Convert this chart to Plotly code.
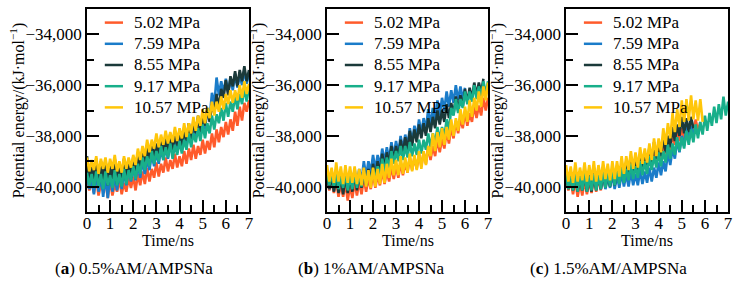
import plotly.graph_objects as go

TIME = [0.0, 0.1, 0.2, 0.3, 0.4, 0.5, 0.6, 0.7, 0.8, 0.9, 1.0, 1.1, 1.2, 1.3, 1.4, 1.5, 1.6, 1.7, 1.8, 1.9,
        2.0, 2.1, 2.2, 2.3, 2.4, 2.5, 2.6, 2.7, 2.8, 2.9, 3.0, 3.1, 3.2, 3.3, 3.4, 3.5, 3.6, 3.7, 3.8, 3.9,
        4.0, 4.1, 4.2, 4.3, 4.4, 4.5, 4.6, 4.7, 4.8, 4.9, 5.0, 5.1, 5.2, 5.3, 5.4, 5.5, 5.6, 5.7, 5.8, 5.9,
        6.0, 6.1, 6.2, 6.3, 6.4, 6.5, 6.6, 6.7, 6.8, 6.9, 7.0]

SERIES_NAMES = ["5.02 MPa", "7.59 MPa", "8.55 MPa", "9.17 MPa", "10.57 MPa"]
COLORS = ["#FF5B2B", "#1A7CC9", "#1B3A3A", "#18AF8A", "#FFC60A"]
PANEL_CAPTIONS = ["(<b>a</b>) 0.5%AM/AMPSNa", "(<b>b</b>) 1%AM/AMPSNa", "(<b>c</b>) 1.5%AM/AMPSNa"]

# ---------- panel (a) 0.5%AM/AMPSNa ----------
A_502 = [-39650, -40150, -39800, -40250, -39650, -40350, -39900, -40150, -39750, -40450,
         -39750, -40350, -39900, -40200, -39700, -40300, -39850, -40200, -39650, -40050,
         -39600, -40150, -39500, -39950, -39400, -39900, -39250, -39800, -39300, -39650,
         -39050, -39600, -39100, -39450, -38850, -39400, -38950, -39300, -38700, -39250,
         -38800, -39200, -38600, -39100, -38500, -38950, -38350, -38900, -38400, -38750,
         -38150, -38700, -38200, -38550, -37900, -38450, -37750, -38250, -37650, -38050,
         -37450, -37950, -37350, -37800, -37050, -37600, -36850, -37400, -36700, -37050, -36600]
A_759 = [-39500, -40100, -39700, -40300, -39450, -40200, -39550, -40400, -39600, -40450,
         -39500, -40200, -39600, -40150, -39400, -40100, -39450, -39950, -39300, -39800,
         -39250, -39750, -39150, -39650, -38950, -39500, -38900, -39350, -38700, -39200,
         -38650, -39100, -38500, -38950, -38450, -38900, -38300, -38700, -38200, -38650,
         -38150, -38600, -37950, -38400, -37850, -38250, -37650, -38050, -37500, -37900,
         -37300, -37750, -36950, -37350, -36300, -36800, -35700, -36400, -35850, -36300,
         -35750, -36250, -35750, -36200, -35550, -36100, -35600, -36000, -35400, -35950, -35500]
A_855 = [-38800, -39900, -39050, -39850, -38900, -40000, -39000, -39800, -38950, -39950,
         -39050, -39750, -38900, -39900, -39050, -39800, -38900, -39750, -38950, -39650,
         -38850, -39550, -38750, -39350, -38500, -39250, -38450, -39000, -38250, -38950,
         -38300, -38800, -38100, -38750, -38100, -38600, -37900, -38550, -37950, -38400,
         -37800, -38400, -37750, -38200, -37500, -38150, -37450, -37900, -37200, -37850,
         -37150, -37600, -36900, -37450, -36750, -37100, -36350, -36900, -36150, -36500,
         -35800, -36400, -35650, -36050, -35450, -36050, -35400, -35850, -35250, -35850, -35400]
A_917 = [-39450, -39950, -39500, -40050, -39400, -40000, -39500, -40100, -39400, -39950,
         -39550, -40050, -39350, -39950, -39500, -40000, -39300, -39900, -39350, -39750,
         -39200, -39700, -39100, -39500, -38850, -39350, -38800, -39200, -38600, -39100,
         -38600, -39000, -38400, -38950, -38450, -38850, -38300, -38900, -38350, -38750,
         -38200, -38700, -38150, -38550, -37900, -38450, -37900, -38250, -37700, -38200,
         -37550, -38100, -37500, -37900, -37200, -37750, -37150, -37500, -36900, -37400,
         -36700, -37250, -36650, -37050, -36400, -36950, -36350, -36750, -36100, -36650, -36050]
A_1057 = [-38850, -39400, -38950, -39350, -38800, -39500, -38900, -39300, -38850, -39450,
          -38900, -39300, -38750, -39400, -39000, -39450, -38800, -39300, -38850, -39250,
          -38750, -39150, -38500, -38950, -38400, -38800, -38150, -38650, -38150, -38500,
          -37900, -38450, -37950, -38350, -37800, -38300, -37850, -38250, -37650, -38200,
          -37700, -38100, -37500, -38050, -37500, -37900, -37250, -37800, -37200, -37600,
          -36950, -37500, -36900, -37300, -36650, -37200, -36650, -37050, -36450, -36950,
          -36350, -36750, -36200, -36700, -36200, -36600, -36000, -36500, -35850, -36350, -35950]

# ---------- panel (b) 1%AM/AMPSNa ----------
B_502 = [-39650, -40150, -39800, -40250, -39750, -40400, -39900, -40400, -39850, -40550,
         -39950, -40450, -39800, -40350, -39800, -40300, -39650, -40200, -39650, -40100,
         -39500, -40050, -39550, -39950, -39350, -39900, -39400, -39800, -39200, -39700,
         -39200, -39650, -39050, -39550, -39050, -39450, -38850, -39350, -38850, -39300,
         -38700, -39200, -38650, -39100, -38400, -38950, -38400, -38800, -38100, -38650,
         -38100, -38500, -37800, -38300, -37650, -38100, -37400, -37900, -37300, -37700,
         -37050, -37600, -37100, -37450, -36800, -37300, -36800, -37200, -36500, -37000, -36500]
B_759 = [-39500, -40100, -39600, -40150, -39400, -40050, -39600, -40200, -39450, -40100,
         -39500, -40050, -39300, -39900, -39300, -39800, -39000, -39600, -39000, -39450,
         -38750, -39350, -38750, -39200, -38500, -39050, -38450, -38950, -38250, -38800,
         -38200, -38700, -38000, -38550, -37950, -38400, -37700, -38250, -37600, -38050,
         -37350, -37900, -37300, -37750, -36950, -37550, -36900, -37400, -36600, -37200,
         -36500, -37000, -36250, -36850, -36200, -36700, -36000, -36600, -36050, -36550, -36100]
B_855 = [-39450, -40100, -39550, -40200, -39500, -40250, -39550, -40300, -39550, -40250,
         -39600, -40200, -39450, -40150, -39500, -40050, -39300, -39950, -39300, -39850,
         -39100, -39700, -39000, -39500, -38700, -39300, -38650, -39100, -38400, -39000,
         -38400, -38900, -38150, -38700, -38050, -38550, -37800, -38400, -37750, -38250,
         -37550, -38100, -37500, -38000, -37300, -37850, -37250, -37700, -37000, -37550,
         -37000, -37450, -36750, -37300, -36700, -37150, -36450, -37000, -36400, -36850,
         -36150, -36700, -36100, -36550, -35900, -36400, -35900, -36300, -35750]
B_917 = [-39450, -39950, -39450, -40050, -39450, -40100, -39600, -40050, -39450, -40150,
         -39600, -40100, -39450, -40050, -39500, -40000, -39350, -39950, -39400, -39850,
         -39300, -39750, -39200, -39600, -38900, -39450, -38850, -39250, -38600, -39100,
         -38600, -39000, -38400, -38950, -38400, -38850, -38250, -38800, -38300, -38750,
         -38150, -38700, -38150, -38550, -37900, -38450, -37900, -38300, -37650, -38150,
         -37650, -38050, -37350, -37800, -36900, -37200, -36550, -37100, -36550, -36900,
         -36250, -36750, -36250, -36650, -36000, -36550, -36050, -36450, -35850, -36350, -35850]
B_1057 = [-39150, -39800, -39250, -39850, -39050, -39800, -39200, -39900, -39150, -39850,
          -39200, -39850, -39200, -39900, -39300, -39950, -39250, -40000, -39350, -40050,
          -39250, -40000, -39300, -39900, -39100, -39850, -39100, -39650, -38900, -39550,
          -38950, -39550, -38800, -39500, -38850, -39450, -38700, -39400, -38750, -39350,
          -38600, -39300, -38600, -39150, -38400, -38800, -37900, -38600, -37850, -38450,
          -37700, -38350, -37650, -38150, -37350, -38000, -37300, -37800, -36950, -37550,
          -36850, -37450, -36600, -37250, -36500, -37000, -36250, -36850, -36050, -36600, -35900]

# ---------- panel (c) 1.5%AM/AMPSNa ----------
C_502 = [-39650, -40150, -39750, -40300, -39750, -40400, -39850, -40350, -39700, -40300,
         -39750, -40250, -39600, -40200, -39650, -40150, -39500, -40050, -39550, -39950,
         -39400, -39950, -39450, -39850, -39250, -39800, -39300, -39700, -39050, -39600,
         -39100, -39500, -38900, -39400, -38850, -39300, -38650, -39150, -38600, -39000,
         -38400, -38900, -38300, -38700, -38000, -38550, -37950, -38350, -37700, -38200,
         -37700, -38100, -37500, -38000, -37500, -37950, -37350, -37850, -37450]
C_759 = [-39450, -39950, -39550, -40050, -39450, -40100, -39600, -40050, -39450, -40100,
         -39600, -40100, -39500, -40050, -39600, -40100, -39500, -40100, -39600, -40050,
         -39500, -40100, -39550, -40050, -39450, -40000, -39500, -40000, -39400, -39950,
         -39500, -39950, -39350, -39900, -39400, -39850, -39250, -39800, -39250, -39650,
         -39050, -39550, -39000, -39400, -38650, -39150, -38500, -38900, -38150, -38650,
         -38000, -38400, -37650, -38100, -37600, -38000, -37600]
C_855 = [-39450, -40100, -39550, -40150, -39400, -40200, -39550, -40150, -39500, -40200,
         -39550, -40200, -39450, -40150, -39500, -40100, -39350, -40050, -39400, -40000,
         -39300, -39950, -39300, -39800, -39100, -39700, -39050, -39550, -38850, -39450,
         -38900, -39400, -38700, -39300, -38700, -39150, -38450, -39050, -38250, -38900,
         -38400, -38800, -38100, -38650, -38000, -38450, -37650, -38200, -37550, -38000,
         -37250, -37900, -37300, -37850, -37250, -37700]
C_917 = [-39500, -40100, -39600, -40150, -39450, -40200, -39600, -40150, -39450, -40200,
         -39600, -40150, -39500, -40150, -39550, -40100, -39400, -40050, -39450, -40000,
         -39350, -39950, -39400, -39900, -39250, -39850, -39300, -39750, -39100, -39700,
         -39200, -39650, -39000, -39550, -39000, -39500, -38800, -39350, -38800, -39250,
         -38650, -39200, -38600, -39050, -38350, -38900, -38300, -38750, -38050, -38600,
         -38050, -38500, -37800, -38350, -37750, -38250, -37550, -38100, -37450, -37950,
         -37200, -37800, -37100, -37600, -36850, -37500, -36750, -37350, -36450, -37200, -36650]
C_1057 = [-39150, -39800, -39200, -39850, -39050, -39800, -39250, -39750, -39050, -39800,
          -39150, -39750, -39000, -39800, -39150, -39750, -39000, -39700, -39100, -39750,
          -39000, -39700, -39000, -39600, -38800, -39500, -38800, -39350, -38600, -39300,
          -38650, -39250, -38450, -39100, -38500, -39050, -38300, -38950, -38100, -38800,
          -38100, -38650, -37700, -38350, -37500, -38100, -37100, -37850, -36950, -37650,
          -36600, -37450, -36550, -37400, -36400, -37350, -36600, -37400, -36550, -37450]

PANELS = [
    [A_502, A_759, A_855, A_917, A_1057],
    [B_502, B_759, B_855, B_917, B_1057],
    [C_502, C_759, C_855, C_917, C_1057],
]

Y_RANGE = [-41000, -33000]
X_RANGE = [0, 7]
Y_TICKS = [-40000, -38000, -36000, -34000]
X_TICKS = [0, 1, 2, 3, 4, 5, 6, 7]

W, H = 740, 282
FONT = "Liberation Serif, Times New Roman, serif"
PANEL_PX = [(84, 248), (327, 490), (569, 733)]
TOP_PX, BOT_PX = 9, 212


def px(x):
    return x / W


def py(y):
    return 1 - y / H


fig = go.Figure()
for p, series in enumerate(PANELS):
    sfx = "" if p == 0 else str(p + 1)
    lg = "legend" if p == 0 else "legend" + str(p + 1)
    for name, color, vals in zip(SERIES_NAMES, COLORS, series):
        fig.add_trace(go.Scatter(
            x=TIME[:len(vals)], y=vals, mode="lines", name=name,
            line=dict(color=color, width=2.6), showlegend=False,
            xaxis="x" + sfx, yaxis="y" + sfx, hoverinfo="skip"))
    for name, color in zip(SERIES_NAMES, COLORS):
        fig.add_trace(go.Scatter(
            x=[None], y=[None], mode="markers",
            name='<span style="font-size:17px">' + name + '</span>',
            marker=dict(symbol="line-ew", size=13, color=color,
                        line=dict(color=color, width=2.5)),
            showlegend=True, legend=lg, xaxis="x" + sfx, yaxis="y" + sfx))

layout = dict(
    width=W, height=H, margin=dict(l=0, r=0, t=0, b=0),
    paper_bgcolor="white", plot_bgcolor="white",
    font=dict(family=FONT, size=16, color="black"),
    showlegend=True,
)
axis_common = dict(showline=True, linecolor="black", linewidth=1.5, mirror=True,
                   showgrid=False, zeroline=False, ticks="inside", ticklen=12,
                   tickwidth=1.5, tickcolor="black",
                   tickfont=dict(family=FONT, size=17, color="black"))
for p, (l, r) in enumerate(PANEL_PX):
    sfx = "" if p == 0 else str(p + 1)
    layout["xaxis" + sfx] = dict(
        axis_common, domain=[px(l), px(r)], range=X_RANGE, anchor="y" + sfx,
        tickvals=X_TICKS, ticktext=[str(v) for v in X_TICKS], ticklabelstandoff=-5,
        minor=dict(dtick=0.5, tick0=0, ticks="inside", ticklen=7, tickwidth=1.5, tickcolor="black"))
    layout["yaxis" + sfx] = dict(
        axis_common, domain=[py(BOT_PX), py(TOP_PX)], range=Y_RANGE, anchor="x" + sfx,
        tickvals=Y_TICKS, tickformat=",d",
        minor=dict(dtick=1000, tick0=-41000, ticks="inside", ticklen=7, tickwidth=1.5, tickcolor="black"))
    lg = "legend" if p == 0 else "legend" + str(p + 1)
    layout[lg] = dict(x=px(l + 7), y=py(TOP_PX - 2), xanchor="left", yanchor="top",
                      bgcolor="rgba(0,0,0,0)", borderwidth=0,
                      font=dict(family=FONT, size=14, color="black"),
                      tracegroupgap=0, itemwidth=30)
fig.update_layout(**layout)

for p, (l, r) in enumerate(PANEL_PX):
    fig.add_annotation(text="Time/ns", xref="paper", yref="paper", x=px((l + r) / 2), y=py(240),
                       showarrow=False, font=dict(family=FONT, size=16), xanchor="center", yanchor="middle")
    fig.add_annotation(text="Potential energy/(kJ·mol<sup>−1</sup>)", xref="paper", yref="paper",
                       x=px(l - 70), y=py((TOP_PX + BOT_PX) / 2), textangle=-90, showarrow=False,
                       font=dict(family=FONT, size=16), xanchor="center", yanchor="middle")
    fig.add_annotation(text=PANEL_CAPTIONS[p], xref="paper", yref="paper",
                       x=px([132, 372, 612][p]), y=py(268), showarrow=False,
                       font=dict(family=FONT, size=17), xanchor="center", yanchor="middle")

fig.write_html("out.html")
